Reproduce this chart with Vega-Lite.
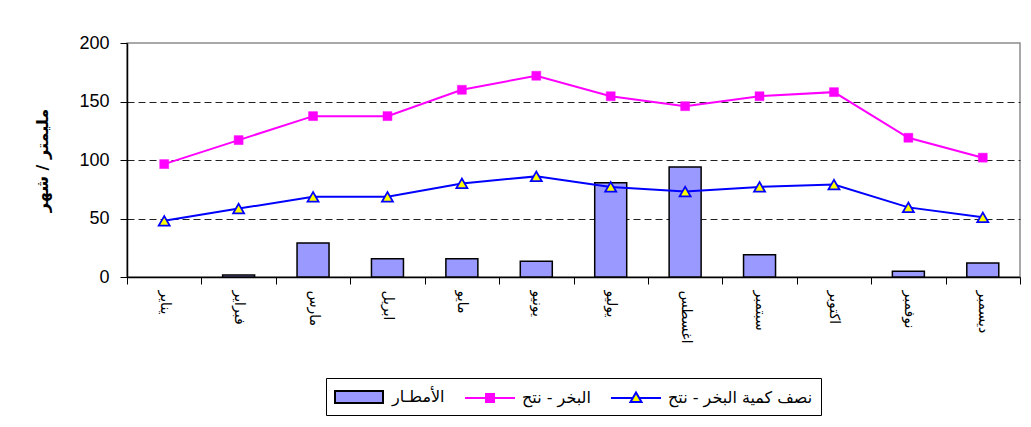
{
  "$schema": "https://vega.github.io/schema/vega-lite/v6.json",
  "autosize": {"type": "none"},
  "width": 893,
  "height": 234,
  "padding": {"left": 127, "top": 43, "right": 11, "bottom": 150},
  "background": "#ffffff",
  "config": {
    "font": "Liberation Sans",
    "view": {"stroke": "#8c8c8c", "strokeWidth": 1.5},
    "legend": {"layout": {"bottom": {"anchor": "middle"}}}
  },
  "data": {
    "values": [
      {"month": "يناير", "series": "الأمطـار", "value": 0},
      {"month": "فبراير", "series": "الأمطـار", "value": 1.7},
      {"month": "مارس", "series": "الأمطـار", "value": 29},
      {"month": "ابريل", "series": "الأمطـار", "value": 15.5},
      {"month": "مايو", "series": "الأمطـار", "value": 15.5},
      {"month": "يونيو", "series": "الأمطـار", "value": 13.5},
      {"month": "يوليو", "series": "الأمطـار", "value": 80.5},
      {"month": "اغسطس", "series": "الأمطـار", "value": 94},
      {"month": "سبتمبر", "series": "الأمطـار", "value": 19},
      {"month": "اكتوبر", "series": "الأمطـار", "value": 0},
      {"month": "نوفمبر", "series": "الأمطـار", "value": 5},
      {"month": "ديسمبر", "series": "الأمطـار", "value": 12},
      {"month": "يناير", "series": "البخر - نتح", "value": 96.5},
      {"month": "فبراير", "series": "البخر - نتح", "value": 117},
      {"month": "مارس", "series": "البخر - نتح", "value": 137.5},
      {"month": "ابريل", "series": "البخر - نتح", "value": 137.5},
      {"month": "مايو", "series": "البخر - نتح", "value": 160},
      {"month": "يونيو", "series": "البخر - نتح", "value": 172},
      {"month": "يوليو", "series": "البخر - نتح", "value": 154.5},
      {"month": "اغسطس", "series": "البخر - نتح", "value": 146},
      {"month": "سبتمبر", "series": "البخر - نتح", "value": 154.5},
      {"month": "اكتوبر", "series": "البخر - نتح", "value": 158},
      {"month": "نوفمبر", "series": "البخر - نتح", "value": 119},
      {"month": "ديسمبر", "series": "البخر - نتح", "value": 102},
      {"month": "يناير", "series": "نصف كمية البخر - نتح", "value": 48},
      {"month": "فبراير", "series": "نصف كمية البخر - نتح", "value": 58.5},
      {"month": "مارس", "series": "نصف كمية البخر - نتح", "value": 68.5},
      {"month": "ابريل", "series": "نصف كمية البخر - نتح", "value": 68.5},
      {"month": "مايو", "series": "نصف كمية البخر - نتح", "value": 80},
      {"month": "يونيو", "series": "نصف كمية البخر - نتح", "value": 86},
      {"month": "يوليو", "series": "نصف كمية البخر - نتح", "value": 77},
      {"month": "اغسطس", "series": "نصف كمية البخر - نتح", "value": 73},
      {"month": "سبتمبر", "series": "نصف كمية البخر - نتح", "value": 77},
      {"month": "اكتوبر", "series": "نصف كمية البخر - نتح", "value": 79},
      {"month": "نوفمبر", "series": "نصف كمية البخر - نتح", "value": 59.5},
      {"month": "ديسمبر", "series": "نصف كمية البخر - نتح", "value": 51}
    ]
  },
  "encoding": {
    "x": {
      "field": "month",
      "type": "nominal",
      "sort": ["يناير", "فبراير", "مارس", "ابريل", "مايو", "يونيو", "يوليو", "اغسطس", "سبتمبر", "اكتوبر", "نوفمبر", "ديسمبر"],
      "scale": {"paddingInner": 0, "paddingOuter": 0},
      "axis": {
        "title": null,
        "labelAngle": 90,
        "labelAlign": "left",
        "labelBaseline": "middle",
        "labelFontSize": 14,
        "labelFont": "DejaVu Sans",
        "labelColor": "#000",
        "labelPadding": 6,
        "tickBand": "extent",
        "tickSize": 7,
        "tickColor": "#000",
        "domainColor": "#000",
        "domainWidth": 1.5,
        "grid": false
      }
    },
    "y": {
      "field": "value",
      "type": "quantitative",
      "scale": {"domain": [0, 200], "nice": false},
      "axis": {
        "title": "مليمتر / شهر",
        "titleFontSize": 16,
        "titleFontWeight": "bold",
        "titleFont": "DejaVu Sans",
        "titleColor": "#000",
        "titlePadding": 28,
        "values": [0, 50, 100, 150, 200],
        "labelFontSize": 18,
        "labelColor": "#000",
        "labelPadding": 11,
        "tickSize": 7,
        "tickColor": "#000",
        "domainColor": "#000",
        "domainWidth": 1.5,
        "grid": true,
        "gridColor": {"condition": {"test": "datum.value === 0 || datum.value === 200", "value": "transparent"}, "value": "#222"},
        "gridDash": [7, 4],
        "gridWidth": 1
      }
    }
  },
  "layer": [
    {
      "transform": [{"filter": "datum.series === 'الأمطـار' && datum.value > 0"}],
      "mark": {"type": "bar", "width": {"band": 0.43}, "fill": "#9999FF", "stroke": "#000", "strokeWidth": 1.5}
    },
    {
      "transform": [{"filter": "datum.series === 'البخر - نتح'"}],
      "mark": {"type": "line", "strokeWidth": 2, "stroke": "#FF00FF"},
      "encoding": {}
    },
    {
      "transform": [{"filter": "datum.series === 'نصف كمية البخر - نتح'"}],
      "mark": {"type": "line", "strokeWidth": 2, "stroke": "#0000FF"},
      "encoding": {}
    },
    {
      "transform": [{"filter": "datum.series === 'البخر - نتح'"}],
      "mark": {"type": "point", "shape": "square", "filled": true, "fill": "#FF00FF", "stroke": "#FF00FF", "strokeWidth": 0.5, "size": 80, "opacity": 1},
      "encoding": {}
    },
    {
      "transform": [{"filter": "datum.series === 'نصف كمية البخر - نتح'"}],
      "mark": {"type": "point", "shape": "triangle-up", "filled": true, "fill": "#FFFF00", "stroke": "#0000FF", "strokeWidth": 1.8, "size": 120, "opacity": 1},
      "encoding": {}
    },
    {
      "transform": [{"filter": "datum.value < 0"}],
      "mark": {"type": "point", "filled": true, "opacity": 1, "strokeWidth": 2, "size": 400},
      "encoding": {
        "shape": {
          "field": "series",
          "type": "nominal",
          "scale": {
            "domain": ["الأمطـار", "البخر - نتح", "نصف كمية البخر - نتح"],
            "range": ["M-1,-0.6H3.8V0.6H-1Z", "M-1,0H4M1.1,-0.4H1.9V0.4H1.1Z", "M-1,0H1.18M1.82,0H4M1.5,-0.55L2.05,0.4H0.95Z"]
          },
          "legend": {
            "title": null,
            "orient": "bottom",
            "direction": "horizontal",
            "offset": 34,
            "padding": 8,
            "strokeColor": "#000",
            "symbolSize": 400,
            "symbolStrokeWidth": 2,
            "symbolOpacity": 1,
            "labelOffset": 36,
            "labelFontSize": 16,
            "labelColor": "#000",
            "labelFont": "DejaVu Sans",
            "columnPadding": 16
          }
        },
        "fill": {
          "field": "series",
          "type": "nominal",
          "scale": {
            "domain": ["الأمطـار", "البخر - نتح", "نصف كمية البخر - نتح"],
            "range": ["#9999FF", "#FF00FF", "#FFFF00"]
          },
          "legend": {
            "title": null,
            "orient": "bottom",
            "direction": "horizontal",
            "offset": 34,
            "padding": 8,
            "strokeColor": "#000",
            "symbolSize": 400,
            "symbolStrokeWidth": 2,
            "symbolOpacity": 1,
            "labelOffset": 36,
            "labelFontSize": 16,
            "labelColor": "#000",
            "labelFont": "DejaVu Sans",
            "columnPadding": 16
          }
        },
        "stroke": {
          "field": "series",
          "type": "nominal",
          "scale": {
            "domain": ["الأمطـار", "البخر - نتح", "نصف كمية البخر - نتح"],
            "range": ["#000000", "#FF00FF", "#0000FF"]
          },
          "legend": {
            "title": null,
            "orient": "bottom",
            "direction": "horizontal",
            "offset": 34,
            "padding": 8,
            "strokeColor": "#000",
            "symbolSize": 400,
            "symbolStrokeWidth": 2,
            "symbolOpacity": 1,
            "labelOffset": 36,
            "labelFontSize": 16,
            "labelColor": "#000",
            "labelFont": "DejaVu Sans",
            "columnPadding": 16
          }
        }
      }
    }
  ]
}
